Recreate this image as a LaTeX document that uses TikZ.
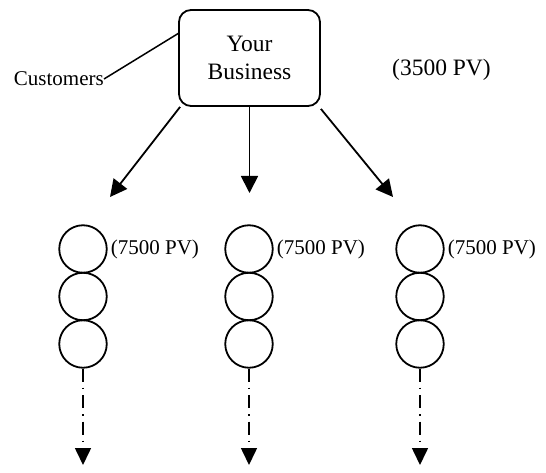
\documentclass[tikz,border=0pt]{standalone}
\usepackage{fontspec}
\setmainfont{Liberation Serif}
\usetikzlibrary{arrows.meta}
\begin{document}
\begin{tikzpicture}[x=1pt,y=-1pt,
  bizbox/.style={draw,line width=1.8pt,rounded corners=12pt,minimum width=141pt,minimum height=96pt,align=center,inner sep=0pt,font=\fontsize{23.5}{27.5}\selectfont},
  member/.style={draw,circle,line width=1.8pt,minimum size=47.5pt,inner sep=0pt},
  lbl/.style={font=\fontsize{21}{24}\selectfont,inner sep=0pt},
  mainarrow/.style={line width=1.8pt,-{Triangle[length=17pt,width=17pt]}},
  downarrow/.style={line width=1.6pt,dash pattern=on 13pt off 6pt on 1.5pt off 6pt,-{Triangle[length=17pt,width=16pt]}},
  plainline/.style={line width=1.5pt}]
\useasboundingbox (0,0) rectangle (546,473);
\node[bizbox] (biz) at (249.5,58) {Your\\Business};
\node[lbl,anchor=east] (cust) at (104,79) {Customers};
\coordinate (custend) at (179,33);
\draw[plainline] (cust.east) -- (custend);
\node[lbl,font=\fontsize{23.5}{27}\selectfont] (pv) at (441.5,70) {(3500 PV)};
% columns
\foreach \c/\x in {a/83,b/249,c/420}{
  \node[member] (\c1) at (\x,249) {};
  \node[member] (\c2) at (\x,296.5) {};
  \node[member] (\c3) at (\x,344) {};
  \node[lbl,anchor=west] (\c l) at ([xshift=3pt]\c1.east) {(7500 PV)};
  \coordinate (\c end) at (\x,465);
  \draw[downarrow] (\c3.south) -- (\c end);
}
\coordinate (la) at (110,197);
\coordinate (lb) at (249.5,193);
\coordinate (lc) at (393,197);
\draw[mainarrow] ([xshift=2pt]biz.south west) -- (la);
\draw[mainarrow] (biz.south) -- (lb);
\draw[mainarrow] ([yshift=-2pt]biz.south east) -- (lc);
\end{tikzpicture}
\end{document}
